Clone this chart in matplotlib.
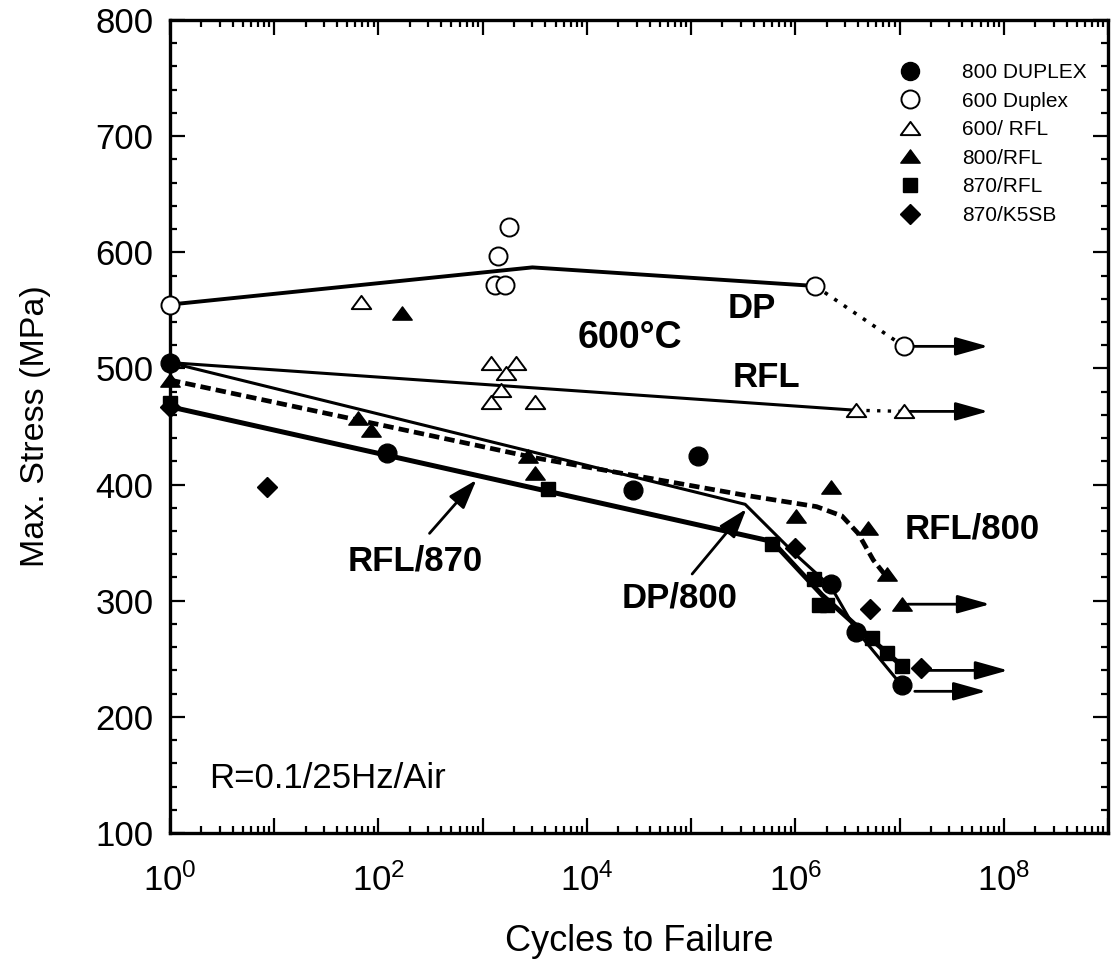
import numpy as np
import matplotlib
matplotlib.use("Agg")
import matplotlib.pyplot as plt
from matplotlib.lines import Line2D
from matplotlib.path import Path
from matplotlib.ticker import LogLocator, FuncFormatter, MultipleLocator, NullFormatter

plt.rcParams["font.family"] = ["Liberation Sans", "DejaVu Sans"]
plt.rcParams["mathtext.fontset"] = "custom"
plt.rcParams["mathtext.rm"] = "Liberation Sans"
plt.rcParams["mathtext.it"] = "Liberation Sans:italic"
plt.rcParams["mathtext.bf"] = "Liberation Sans:bold"

# ---- data points (cycles, max stress MPa) ----
duplex800_n = [1, 120, 2.8e4, 1.17e5, 2.2e6, 3.8e6, 1.05e7]
duplex800_s = [505, 427, 395, 425, 314, 273, 227]

duplex600_n = [1, 1.3e3, 1.65e3, 1.4e3, 1.8e3, 1.55e6, 1.1e7]
duplex600_s = [555, 572, 572, 597, 622, 571, 519]

rfl600_n = [68, 1.2e3, 2.1e3, 1.66e3, 1.5e3, 1.2e3, 3.2e3, 3.8e6, 1.1e7]
rfl600_s = [557, 505, 505, 496, 481, 471, 471, 464, 463]

rfl800_n = [1, 63, 85, 170, 2.7e3, 3.2e3, 1.02e6, 2.2e6, 5.0e6, 7.6e6, 1.05e7]
rfl800_s = [490, 457, 447, 548, 425, 410, 373, 398, 363, 323, 297]

rfl870_n = [1, 4.2e3, 6.0e5, 1.5e6, 1.7e6, 2.0e6, 5.5e6, 7.6e6, 1.05e7]
rfl870_s = [470, 396, 349, 319, 296, 296, 268, 255, 244]

k5sb870_n = [1, 8.5, 1.0e6, 5.2e6, 1.6e7]
k5sb870_s = [467, 398, 345, 293, 242]

# ---- fitted curves ----
dp600_curve_n = [1, 3.0e3, 1.55e6]
dp600_curve_s = [555, 587, 571]
dp600_tail_n = [1.55e6, 1.1e7]
dp600_tail_s = [571, 519]

rfl600_curve_n = [1, 3.8e6]
rfl600_curve_s = [505, 464]
rfl600_tail_n = [3.8e6, 1.1e7]
rfl600_tail_s = [464, 463]

dp800_curve_n = [1, 3.3e5, 1.0e6, 2.2e6, 3.8e6, 1.05e7]
dp800_curve_s = [505, 383, 340, 312, 275, 227]

rfl870_curve_n = [1, 6.0e5, 1.8e6, 5.5e6, 1.05e7]
rfl870_curve_s = [467, 351, 305, 266, 244]

rfl800_curve_n = [1, 3.2e3, 3.2e5, 1.6e6, 2.8e6, 4.0e6, 5.6e6, 7.6e6]
rfl800_curve_s = [490, 423, 391, 381, 373, 358, 335, 320]

# run-outs: start cycles, end cycles, stress
runout_start = [1.25e7, 1.25e7, 1.2e7, 1.8e7, 1.4e7]
runout_end = [7.1e7, 7.1e7, 7.4e7, 1.1e8, 6.8e7]
runout_s = [519, 463, 297, 240, 222]

fig = plt.figure(figsize=(11.12, 9.63), dpi=100)
ax = fig.add_axes([170 / 1112, 1 - 833 / 963, 938 / 1112, 813 / 963])
ax.set_xscale("log")
ax.set_xlim(1, 1e9)
ax.set_ylim(100, 800)

# curves
ax.plot(dp600_curve_n, dp600_curve_s, color="k", lw=2.8, zorder=2)
ax.plot(dp600_tail_n, dp600_tail_s, color="k", lw=2.6, ls=(0, (1, 2.2)), zorder=2)
ax.plot(rfl600_curve_n, rfl600_curve_s, color="k", lw=2.2, zorder=2)
ax.plot(rfl600_tail_n, rfl600_tail_s, color="k", lw=2.4, ls=(0, (1, 2.2)), zorder=2)
ax.plot(dp800_curve_n, dp800_curve_s, color="k", lw=2.2, zorder=2)
ax.plot(rfl870_curve_n, rfl870_curve_s, color="k", lw=3.6, zorder=2)
ax.plot(rfl800_curve_n, rfl800_curve_s, color="k", lw=3.4, ls=(0, (2.2, 1.1)), zorder=2)

# markers (wide triangle, closed path)
tri = Path([(-1, -0.68), (1, -0.68), (0, 0.68), (-1, -0.68)],
           [Path.MOVETO, Path.LINETO, Path.LINETO, Path.CLOSEPOLY])
mk = dict(ls="none", zorder=4, clip_on=False)
ax.plot(duplex800_n, duplex800_s, marker="o", ms=13.5, mfc="k", mec="k", **mk)
ax.plot(duplex600_n, duplex600_s, marker="o", ms=13, mfc="white", mec="k", mew=1.4, **mk)
ax.plot(rfl600_n, rfl600_s, marker=tri, ms=14, mfc="white", mec="k", mew=1.4, **mk)
ax.plot(rfl800_n, rfl800_s, marker=tri, ms=14, mfc="k", mec="k", **mk)
ax.plot(rfl870_n, rfl870_s, marker="s", ms=10.5, mfc="k", mec="k", **mk)
ax.plot(k5sb870_n, k5sb870_s, marker="D", ms=10, mfc="k", mec="k", **mk)

# run-out arrows
for n0, n1, s in zip(runout_start, runout_end, runout_s):
    ax.annotate("", xy=(n1, s), xytext=(n0, s),
                arrowprops=dict(arrowstyle="-|>,head_length=1.0,head_width=0.28",
                                mutation_scale=20, lw=2.0, color="k",
                                shrinkA=0, shrinkB=0), zorder=3)

# labels with pointer arrows
ax.annotate("", xy=(10 ** 2.94, 404), xytext=(10 ** 2.49, 358),
            arrowprops=dict(arrowstyle="-|>,head_length=0.9,head_width=0.3",
                            mutation_scale=20, lw=2.0, color="k", shrinkA=0, shrinkB=0))
ax.annotate("", xy=(10 ** 5.53, 379), xytext=(10 ** 5.01, 323),
            arrowprops=dict(arrowstyle="-|>,head_length=0.9,head_width=0.3",
                            mutation_scale=20, lw=2.0, color="k", shrinkA=0, shrinkB=0))

bold = dict(fontsize=25, fontweight="bold", ha="center", va="center")
ax.text(10 ** 2.35, 334, "RFL/870", **bold)
ax.text(10 ** 4.89, 302, "DP/800", **bold)
ax.text(10 ** 7.70, 362, "RFL/800", **bold)
ax.text(10 ** 4.41, 526, "600°C", fontsize=27, fontweight="bold", ha="center", va="center")
ax.text(10 ** 5.58, 552, "DP", **bold)
ax.text(10 ** 5.72, 492, "RFL", **bold)
ax.text(10 ** 0.38, 147, "R=0.1/25Hz/Air", fontsize=25, ha="left", va="center")

# legend
handles = [
    Line2D([], [], ls="none", marker="o", ms=13, mfc="k", mec="k"),
    Line2D([], [], ls="none", marker="o", ms=13, mfc="white", mec="k", mew=1.4),
    Line2D([], [], ls="none", marker=tri, ms=14, mfc="white", mec="k", mew=1.4),
    Line2D([], [], ls="none", marker=tri, ms=14, mfc="k", mec="k"),
    Line2D([], [], ls="none", marker="s", ms=10.5, mfc="k", mec="k"),
    Line2D([], [], ls="none", marker="D", ms=10, mfc="k", mec="k"),
]
labels = ["800 DUPLEX", "600 Duplex", "600/ RFL", "800/RFL", "870/RFL", "870/K5SB"]
ax.legend(handles, labels, loc="upper left", frameon=False, fontsize=15,
          bbox_to_anchor=(900 / 1112, 1 - 63 / 963), bbox_transform=fig.transFigure,
          borderpad=0, borderaxespad=0, handlelength=1.0, handletextpad=2.0,
          labelspacing=0.46)

# axes styling
for sp in ax.spines.values():
    sp.set_linewidth(2.4)

ax.xaxis.set_major_locator(LogLocator(base=10, numticks=20))
ax.xaxis.set_minor_locator(LogLocator(base=10, subs=np.arange(2, 10), numticks=200))
ax.xaxis.set_minor_formatter(NullFormatter())


def dec_label(v, pos):
    e = int(round(np.log10(v)))
    return r"$\mathregular{10^{%d}}$" % e if e % 2 == 0 else ""


ax.xaxis.set_major_formatter(FuncFormatter(dec_label))
ax.yaxis.set_major_locator(MultipleLocator(100))
ax.yaxis.set_minor_locator(MultipleLocator(20))

ax.tick_params(which="both", direction="in", top=True, right=True, width=1.6)
ax.tick_params(which="major", length=11)
ax.tick_params(which="minor", length=5)
ax.tick_params(axis="x", which="major", labelsize=25, pad=22)
ax.tick_params(axis="y", which="major", labelsize=25, pad=12)

ax.set_xlabel("Cycles to Failure", fontsize=26, labelpad=19)
ax.set_ylabel("Max. Stress (MPa)", fontsize=24.5, labelpad=32)

fig.savefig("out.png", dpi=100)
